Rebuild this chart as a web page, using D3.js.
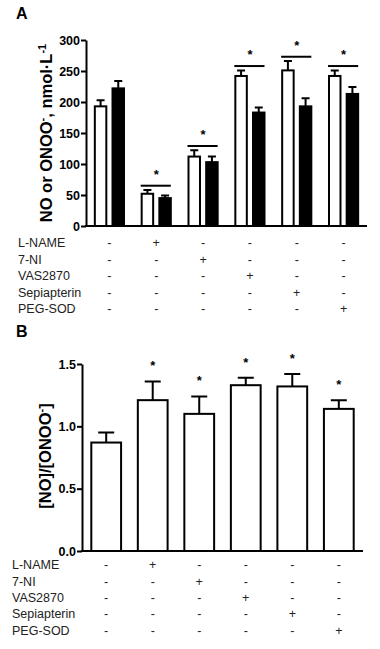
<!DOCTYPE html>
<html>
<head>
<meta charset="utf-8">
<script src="https://cdn.jsdelivr.net/npm/d3@7"></script>
<style>
  body { margin: 0; background: #fff; }
  svg { display: block; font-family: "Liberation Sans", Arial, sans-serif; }
</style>
</head>
<body>
<div id="plot"></div>
<script>
// groups and treatments
const groups = ["Control", "L-NAME", "7-NI", "VAS2870", "Sepiapterin", "PEG-SOD"];
const treatments = ["L-NAME", "7-NI", "VAS2870", "Sepiapterin", "PEG-SOD"];

// panel A: NO (white) and ONOO- (black), nmol/L
const noMean = [193, 52, 112, 242, 251, 242];
const noSem = [10, 6, 10, 9, 15, 9];
const onooMean = [222, 45, 103, 183, 193, 213];
const onooSem = [12, 4, 9, 8, 13, 11];
const sigA = [false, true, true, true, true, true];
const ticksA = [0, 50, 100, 150, 200, 250, 300];

// panel B: ratio [NO]/[ONOO-]
const ratioMean = [0.87, 1.21, 1.10, 1.33, 1.32, 1.14];
const ratioSem = [0.08, 0.15, 0.14, 0.06, 0.10, 0.07];
const sigB = [false, true, true, true, true, true];
const ticksB = [0, 0.5, 1.0, 1.5];

const width = 380, height = 649;

const svg = d3.select("#plot").append("svg")
  .attr("width", width)
  .attr("height", height)
  .attr("viewBox", [0, 0, width, height]);

// treatment table below each panel
function table(g, x, y0, step, labelX) {
  treatments.forEach((t, r) => {
    const y = y0 + r * step;
    g.append("text")
      .attr("x", labelX).attr("y", y)
      .attr("dy", "0.35em")
      .attr("font-size", 12.5)
      .attr("fill", "#222")
      .text(t);
    groups.forEach((grp, i) => {
      g.append("text")
        .attr("x", x(grp) + x.bandwidth() / 2)
        .attr("y", y)
        .attr("dy", "0.35em")
        .attr("text-anchor", "middle")
        .attr("font-size", 12.5)
        .attr("fill", "#222")
        .text(i === r + 1 ? "+" : "-");
    });
  });
}

function yAxisStyle(g) {
  g.select(".domain").attr("stroke-width", 2);
  g.selectAll(".tick line").attr("stroke-width", 2);
  g.selectAll(".tick text")
    .attr("font-size", 12.5)
    .attr("font-weight", "bold")
    .attr("font-family", "'Liberation Sans', Arial, sans-serif");
}

// ---------- Panel A ----------
{
  const x = d3.scaleBand().domain(groups).range([86, 367]).padding(0);
  const xi = d3.scaleBand().domain(["NO", "ONOO"]).range([0, x.bandwidth()])
    .paddingInner(0.35).paddingOuter(0.5);
  const y = d3.scaleLinear().domain([0, 300]).range([226, 40]);

  const g = svg.append("g");

  g.append("text").attr("x", 16).attr("y", 19)
    .attr("font-size", 16).attr("font-weight", "bold").text("A");

  const series = [
    {key: "NO", mean: noMean, sem: noSem, fill: "#fff"},
    {key: "ONOO", mean: onooMean, sem: onooSem, fill: "#000"}
  ];

  series.forEach(s => {
    const cx = i => x(groups[i]) + xi(s.key) + xi.bandwidth() / 2;
    // error bars (upper only)
    g.append("g").selectAll("path")
      .data(groups)
      .join("path")
      .attr("fill", "none")
      .attr("stroke", "#000")
      .attr("stroke-width", 2)
      .attr("d", (d, i) => {
        const top = y(s.mean[i] + s.sem[i]);
        return `M${cx(i)},${y(s.mean[i])}V${top}M${cx(i) - 4},${top}H${cx(i) + 4}`;
      });
    g.append("g").selectAll("rect")
      .data(groups)
      .join("rect")
      .attr("x", d => x(d) + xi(s.key))
      .attr("width", xi.bandwidth())
      .attr("y", (d, i) => y(s.mean[i]))
      .attr("height", (d, i) => y(0) - y(s.mean[i]))
      .attr("fill", s.fill)
      .attr("stroke", "#000")
      .attr("stroke-width", 2);
  });

  // significance bars
  groups.forEach((grp, i) => {
    if (!sigA[i]) return;
    const ly = y(Math.max(noMean[i] + noSem[i], onooMean[i] + onooSem[i]) + 7);
    g.append("line")
      .attr("x1", x(grp) + xi("NO") - 1)
      .attr("x2", x(grp) + xi("ONOO") + xi.bandwidth())
      .attr("y1", ly).attr("y2", ly)
      .attr("stroke", "#000").attr("stroke-width", 2);
    g.append("text")
      .attr("x", x(grp) + x.bandwidth() / 2)
      .attr("y", ly - 7)
      .attr("text-anchor", "middle")
      .attr("font-size", 13)
      .attr("font-weight", "bold")
      .text("*");
  });

  g.append("g")
    .attr("transform", "translate(86,0)")
    .call(d3.axisLeft(y).tickValues(ticksA).tickSize(5).tickSizeOuter(0).tickPadding(1))
    .call(yAxisStyle);

  g.append("line")
    .attr("x1", 85).attr("x2", 367)
    .attr("y1", y(0)).attr("y2", y(0))
    .attr("stroke", "#000").attr("stroke-width", 2);

  const lab = g.append("text")
    .attr("transform", `translate(52,${(y(0) + y(300)) / 2}) rotate(-90)`)
    .attr("text-anchor", "middle")
    .attr("font-size", 16.5)
    .attr("font-weight", "bold");
  lab.append("tspan").text("NO or ONOO");
  lab.append("tspan").attr("dy", -6).attr("font-size", 11).text("-");
  lab.append("tspan").attr("dy", 6).text(", nmol·L");
  lab.append("tspan").attr("dy", -6).attr("font-size", 11).text("-1");

  table(g, x, 243, 16.4, 18);
}

// ---------- Panel B ----------
{
  const x = d3.scaleBand().domain(groups).range([82, 363])
    .paddingInner(0.36).paddingOuter(0.2);
  const y = d3.scaleLinear().domain([0, 1.5]).range([551, 364]);
  const g = svg.append("g");

  g.append("text").attr("x", 16).attr("y", 337)
    .attr("font-size", 16).attr("font-weight", "bold").text("B");

  const cx = d => x(d) + x.bandwidth() / 2;

  g.append("g").selectAll("path")
    .data(groups)
    .join("path")
    .attr("fill", "none")
    .attr("stroke", "#000")
    .attr("stroke-width", 2)
    .attr("d", (d, i) => {
      const top = y(ratioMean[i] + ratioSem[i]);
      return `M${cx(d)},${y(ratioMean[i])}V${top}M${cx(d) - 8},${top}H${cx(d) + 8}`;
    });

  g.append("g").selectAll("rect")
    .data(groups)
    .join("rect")
    .attr("x", d => x(d))
    .attr("width", x.bandwidth())
    .attr("y", (d, i) => y(ratioMean[i]))
    .attr("height", (d, i) => y(0) - y(ratioMean[i]))
    .attr("fill", "#fff")
    .attr("stroke", "#000")
    .attr("stroke-width", 2);

  g.append("g").selectAll("text")
    .data(groups.filter((d, i) => sigB[i]))
    .join("text")
    .attr("x", d => cx(d))
    .attr("y", d => {
      const i = groups.indexOf(d);
      return y(ratioMean[i] + ratioSem[i]) - 11;
    })
    .attr("text-anchor", "middle")
    .attr("font-size", 13)
    .attr("font-weight", "bold")
    .text("*");

  g.append("g")
    .attr("transform", "translate(82,0)")
    .call(d3.axisLeft(y).tickValues(ticksB).tickFormat(d3.format(".1f"))
      .tickSize(5).tickSizeOuter(0).tickPadding(1))
    .call(yAxisStyle);

  g.append("line")
    .attr("x1", 81).attr("x2", 363)
    .attr("y1", y(0)).attr("y2", y(0))
    .attr("stroke", "#000").attr("stroke-width", 2);

  const lab = g.append("text")
    .attr("transform", `translate(51,456) rotate(-90)`)
    .attr("text-anchor", "middle")
    .attr("font-size", 16.5)
    .attr("font-weight", "bold");
  lab.append("tspan").text("[NO]/[ONOO");
  lab.append("tspan").attr("dy", -6).attr("font-size", 11).text("-");
  lab.append("tspan").attr("dy", 6).text("]");

  table(g, x, 565, 16.3, 12);
}
</script>
</body>
</html>
